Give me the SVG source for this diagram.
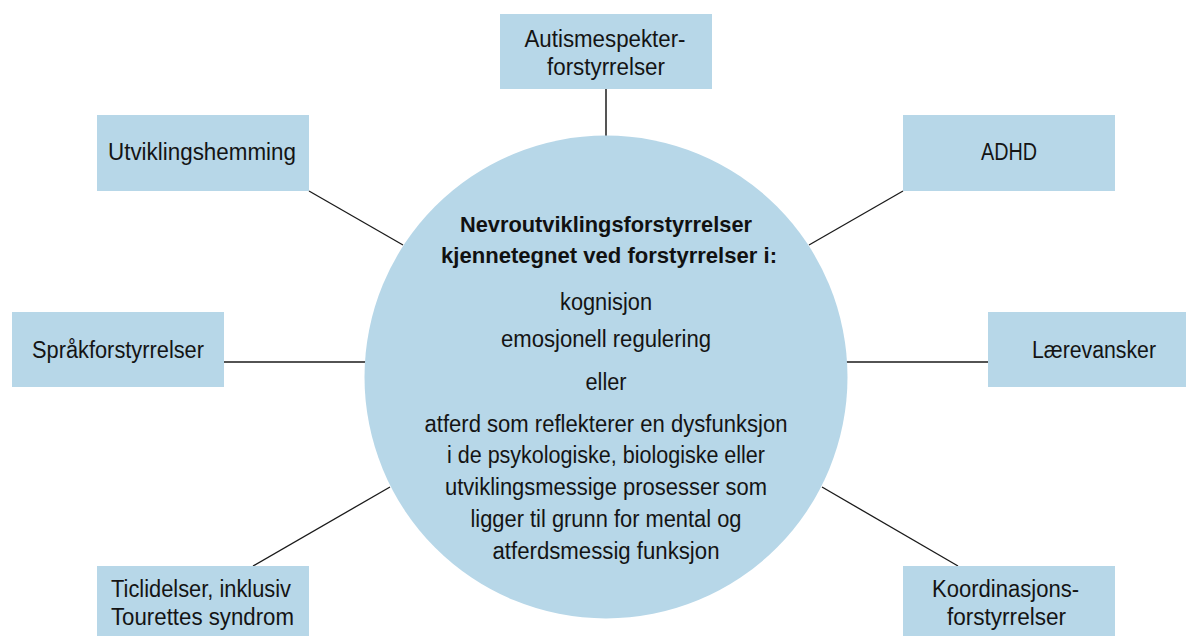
<svg xmlns="http://www.w3.org/2000/svg" width="1186" height="636" viewBox="0 0 1186 636">
<style>
.box{fill:#b7d7e8}
.lbl{font-family:"Liberation Sans",Arial,sans-serif;font-size:23px;fill:#141414;text-anchor:middle}
.body{font-family:"Liberation Sans",Arial,sans-serif;font-size:23px;fill:#141414;text-anchor:middle}
.title{font-family:"Liberation Sans",Arial,sans-serif;font-size:22px;font-weight:bold;fill:#111;text-anchor:middle}
.ln{stroke:#1a1a1a;stroke-width:1.3;fill:none}
</style>
<rect width="1186" height="636" fill="#fff"/>
<g id="connectors">
<line class="ln" x1="606" y1="89" x2="606" y2="136" style="stroke:#555;stroke-width:2"/>
<line class="ln" x1="309" y1="191" x2="403" y2="245"/>
<line class="ln" x1="903" y1="191" x2="809" y2="245"/>
<line class="ln" x1="224" y1="362" x2="366" y2="362"/>
<line class="ln" x1="846" y1="362" x2="988" y2="362"/>
<line class="ln" x1="253" y1="566" x2="390" y2="487"/>
<line class="ln" x1="958" y1="566" x2="822" y2="487"/>
</g>
<g id="center">
<circle class="box" cx="606" cy="377" r="241.5"/>
<text class="title" x="606" y="232" textLength="292" lengthAdjust="spacingAndGlyphs">Nevroutviklingsforstyrrelser</text>
<text class="title" x="609" y="263" textLength="336" lengthAdjust="spacingAndGlyphs">kjennetegnet ved forstyrrelser i:</text>
<text class="body" x="606" y="310" textLength="92" lengthAdjust="spacingAndGlyphs">kognisjon</text>
<text class="body" x="606" y="347" textLength="210" lengthAdjust="spacingAndGlyphs">emosjonell regulering</text>
<text class="body" x="606" y="390" textLength="41" lengthAdjust="spacingAndGlyphs">eller</text>
<text class="body" x="606" y="432" textLength="363" lengthAdjust="spacingAndGlyphs">atferd som reflekterer en dysfunksjon</text>
<text class="body" x="606" y="463" textLength="318" lengthAdjust="spacingAndGlyphs">i de psykologiske, biologiske eller</text>
<text class="body" x="606" y="495" textLength="322" lengthAdjust="spacingAndGlyphs">utviklingsmessige prosesser som</text>
<text class="body" x="606" y="527" textLength="271" lengthAdjust="spacingAndGlyphs">ligger til grunn for mental og</text>
<text class="body" x="606" y="559" textLength="227" lengthAdjust="spacingAndGlyphs">atferdsmessig funksjon</text>
</g>
<g id="autisme">
<rect class="box" x="500" y="14" width="212" height="75"/>
<text class="lbl" x="605" y="47" textLength="161" lengthAdjust="spacingAndGlyphs">Autismespekter-</text>
<text class="lbl" x="606" y="75" textLength="118" lengthAdjust="spacingAndGlyphs">forstyrrelser</text>
</g>
<g id="utvikling">
<rect class="box" x="97" y="115" width="212" height="76"/>
<text class="lbl" x="202" y="160" textLength="188" lengthAdjust="spacingAndGlyphs">Utviklingshemming</text>
</g>
<g id="adhd">
<rect class="box" x="903" y="115" width="212" height="76"/>
<text class="lbl" x="1009" y="160" textLength="56" lengthAdjust="spacingAndGlyphs">ADHD</text>
</g>
<g id="sprak">
<rect class="box" x="12" y="312" width="212" height="75"/>
<text class="lbl" x="118" y="358" textLength="172" lengthAdjust="spacingAndGlyphs">Språkforstyrrelser</text>
</g>
<g id="laere">
<rect class="box" x="988" y="312" width="212" height="75"/>
<text class="lbl" x="1094" y="358" textLength="124" lengthAdjust="spacingAndGlyphs">Lærevansker</text>
</g>
<g id="tic">
<rect class="box" x="97" y="566" width="212" height="76"/>
<text class="lbl" x="201" y="597" textLength="180" lengthAdjust="spacingAndGlyphs">Ticlidelser, inklusiv</text>
<text class="lbl" x="202.5" y="625" textLength="183" lengthAdjust="spacingAndGlyphs">Tourettes syndrom</text>
</g>
<g id="koordinasjon">
<rect class="box" x="903" y="566" width="212" height="76"/>
<text class="lbl" x="1005.5" y="597" textLength="147" lengthAdjust="spacingAndGlyphs">Koordinasjons-</text>
<text class="lbl" x="1006.5" y="625" textLength="119" lengthAdjust="spacingAndGlyphs">forstyrrelser</text>
</g>
</svg>
